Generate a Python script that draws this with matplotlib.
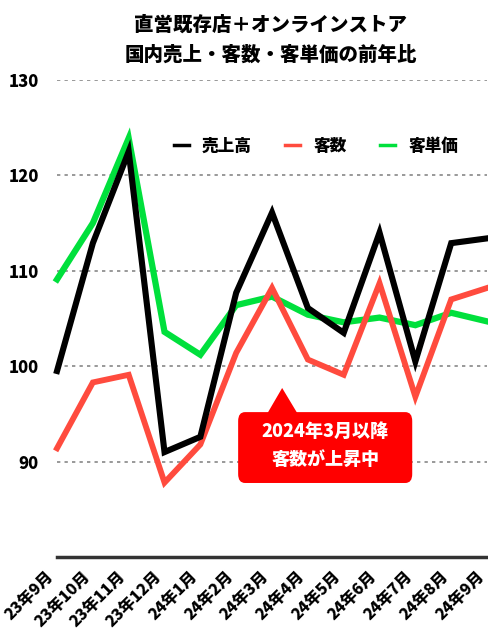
import matplotlib
matplotlib.use("Agg")
import matplotlib.pyplot as plt
from matplotlib.patches import FancyBboxPatch, Polygon

plt.rcParams['font.family'] = ['Noto Sans CJK JP', 'DejaVu Sans']
plt.rcParams['font.weight'] = 'black'

months = ['23年9月', '23年10月', '23年11月', '23年12月', '24年1月', '24年2月', '24年3月',
          '24年4月', '24年5月', '24年6月', '24年7月', '24年8月', '24年9月']
sales = [99.5, 112.9, 122.5, 91.0, 92.6, 107.7, 116.1, 106.1, 103.5, 114.0, 100.5, 112.9, 113.4]
customers = [91.4, 98.3, 99.1, 87.8, 91.8, 101.4, 108.2, 100.7, 99.1, 108.7, 96.8, 107.0, 108.2]
unit_price = [109.1, 115.0, 123.9, 103.6, 101.2, 106.4, 107.3, 105.4, 104.6, 105.1, 104.3, 105.6, 104.7]
yticks = [90, 100, 110, 120, 130]

fig = plt.figure(figsize=(4.89, 6.35), dpi=100)
ax = fig.add_axes([0.1166, 0.1228, 0.8794, 0.7512])

x = range(len(months))
ax.plot(x, unit_price, color='#00e03c', lw=4.5, label='客単価', zorder=3, clip_on=False,
        solid_joinstyle='miter')
ax.plot(x, customers, color='#ff4b3e', lw=4.2, label='客数', zorder=4, clip_on=False,
        solid_joinstyle='miter')
ax.plot(x, sales, color='black', lw=4.4, label='売上高', zorder=5, clip_on=False,
        solid_joinstyle='miter')

ax.set_xlim(0, len(months) - 1)
ax.set_ylim(80, 130)
ax.set_yticks(yticks)
ax.set_yticklabels([str(v) for v in yticks], fontsize=12, fontweight='black')
ax.set_xticks(list(x))
ax.set_xticklabels(months, rotation=45, ha='right', va='bottom', rotation_mode='anchor',
                   fontsize=11.5, fontweight='black')
ax.tick_params(axis='y', length=0, pad=13)
ax.tick_params(axis='x', length=0, pad=16)
for v in yticks:
    ax.axhline(v, color='#888888', lw=1.2, ls=(0, (2, 2.5)), zorder=1)
for s in ['top', 'right', 'left']:
    ax.spines[s].set_visible(False)
ax.spines['bottom'].set_color('#333333')
ax.spines['bottom'].set_linewidth(2.5)

h, l = ax.get_legend_handles_labels()
order = [2, 1, 0]
leg = ax.legend([h[i] for i in order], [l[i] for i in order], ncol=3, frameon=False,
                loc='center', bbox_to_anchor=(0.602, 0.862), handlelength=0.9,
                columnspacing=2.0, handletextpad=0.8, prop={'weight': 'black', 'size': 12})
for lh in leg.get_lines():
    lh.set_linewidth(2.5)

fig.text(0.553, 0.961, '直営既存店＋オンラインストア', ha='center', va='center',
         fontsize=14, fontweight='black')
fig.text(0.553, 0.913, '国内売上・客数・客単価の前年比', ha='center', va='center',
         fontsize=14, fontweight='black')

# callout
box = FancyBboxPatch((0.487, 0.2394), 0.356, 0.1116, boxstyle='round,pad=0.0,rounding_size=0.014',
                     transform=fig.transFigure, facecolor='#ff0000', edgecolor='none', zorder=10)
fig.patches.append(box)
tri = Polygon([(0.546, 0.348), (0.577, 0.389), (0.609, 0.348)], closed=True,
              transform=fig.transFigure, facecolor='#ff0000', edgecolor='none', zorder=10)
fig.patches.append(tri)
fig.text(0.665, 0.321, '2024年3月以降', ha='center', va='center', color='white',
         fontsize=13, fontweight='black', zorder=11)
fig.text(0.665, 0.277, '客数が上昇中', ha='center', va='center', color='white',
         fontsize=13, fontweight='black', zorder=11)

fig.savefig('out.png', dpi=100)
